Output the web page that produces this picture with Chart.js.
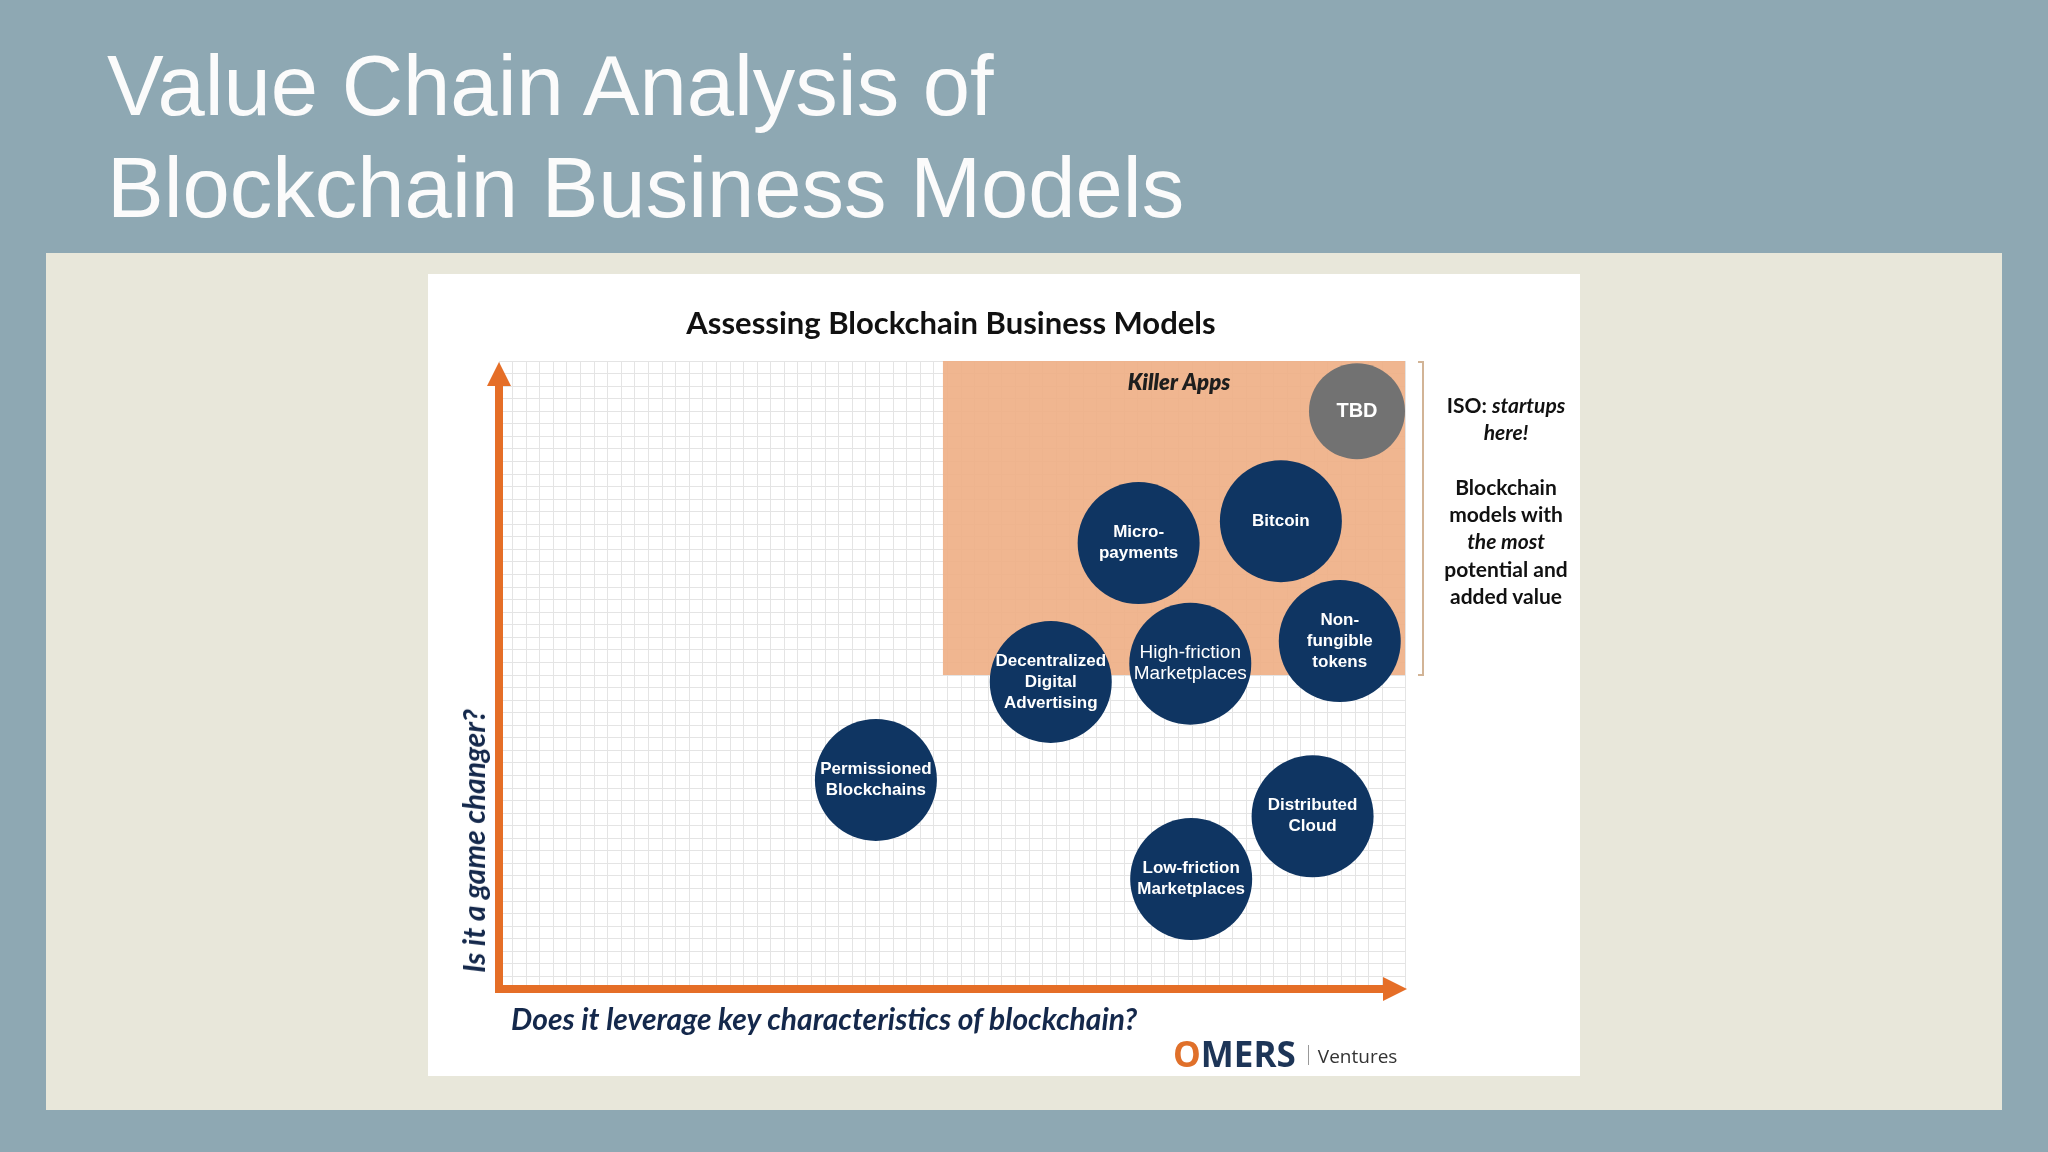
<!DOCTYPE html>
<html>
<head>
<meta charset="utf-8">
<script src="https://cdn.jsdelivr.net/npm/chart.js@4.4.1/dist/chart.umd.min.js"></script>
<style>
  html, body { margin: 0; padding: 0; }
  body {
    width: 2048px; height: 1152px; position: relative; overflow: hidden;
    background: #8ea8b3;
    font-family: 'Liberation Sans', Arial, sans-serif;
  }
  .slide-title {
    position: absolute; left: 107px; top: 35px;
    color: #fbfbfb; font-size: 85px; line-height: 102px;
  }
  .panel {
    position: absolute; left: 46px; top: 253px; width: 1956px; height: 857px;
    background: #e8e7da;
  }
  .card {
    position: absolute; left: 428px; top: 274px; width: 1152px; height: 802px;
    background: #ffffff;
  }
  .card canvas { position: absolute; left: 0; top: 0; }
  .chart-title {
    position: absolute; left: 173px; width: 700px; top: 29px; text-align: center;
    font-family: Lato, sans-serif; font-weight: 700; font-size: 31px; color: #111;
  }
  .x-label {
    position: absolute; left: 83px; top: 726px;
    font-family: Lato, sans-serif; font-weight: 700; font-style: italic;
    font-size: 30px; color: #14284b; white-space: nowrap;
  }
  .y-label {
    position: absolute; left: 45px; top: 567px;
    transform: translate(-50%, -50%) rotate(-90deg);
    font-family: Lato, sans-serif; font-weight: 700; font-style: italic;
    font-size: 30px; color: #14284b; white-space: nowrap;
  }
  .note {
    position: absolute; left: 978px; width: 200px; top: 117px; text-align: center;
    font-family: Lato, sans-serif; font-weight: 700; font-size: 21px;
    line-height: 27.3px; color: #111;
  }
  .logo {
    position: absolute; left: 745px; top: 756px; white-space: nowrap;
    font-family: 'Open Sans', sans-serif; color: #1d3557;
  }
  .logo .brand { font-size: 35px; font-weight: 700; }
  .logo .brand .o { color: #e0702a; }
  .logo .sep {
    display: inline-block; width: 1px; height: 20px; background: #999;
    margin: 0 9px 0 12px; vertical-align: 2px;
  }
  .logo .sub { font-size: 19px; color: #333; vertical-align: 4px; }
</style>
</head>
<body>
<div class="slide-title">Value Chain Analysis of<br>Blockchain Business Models</div>
<div class="panel"></div>
<div class="card">
  <canvas id="chart" width="1152" height="802"></canvas>
  <div class="chart-title">Assessing Blockchain Business Models</div>
  <div class="y-label">Is it a game changer?</div>
  <div class="x-label">Does it leverage key characteristics of blockchain?</div>
  <div class="note">ISO: <i>startups</i><br><i>here!</i><br><br>Blockchain<br>models with<br><i>the most</i><br>potential and<br>added value</div>
  <div class="logo"><span class="brand"><span class="o">O</span>MERS</span><span class="sep"></span><span class="sub">Ventures</span></div>
</div>

<script>
// business models (x = leverages blockchain, y = game changer), 0-100
const models = [
  'Permissioned\nBlockchains',
  'Decentralized\nDigital\nAdvertising',
  'High-friction\nMarketplaces',
  'Micro-\npayments',
  'Bitcoin',
  'Non-\nfungible\ntokens',
  'Distributed\nCloud',
  'Low-friction\nMarketplaces'
];
const leverage = [41.6, 60.9, 76.3, 70.6, 86.3, 92.8, 89.8, 76.4];
const gameChanger = [33.3, 48.9, 51.8, 71.0, 74.5, 55.4, 27.5, 17.5];

const tbdLabel = ['TBD'];
const tbdLeverage = [94.7];
const tbdGameChanger = [92.0];

// killer apps zone
const zoneX = [49, 100];
const zoneY = [50, 100];
const zoneLabel = 'Killer Apps';

const NAVY = '#0f3562';
const ORANGE = '#e56e27';

const toPoints = (xs, ys) => xs.map((x, i) => ({ x: x, y: ys[i] }));

const zonePlugin = {
  id: 'zone',
  beforeDatasetsDraw(chart) {
    const { ctx, scales: { x, y }, chartArea } = chart;
    const left = x.getPixelForValue(zoneX[0]);
    const right = x.getPixelForValue(zoneX[1]);
    const top = y.getPixelForValue(zoneY[1]);
    const bottom = y.getPixelForValue(zoneY[0]);
    ctx.save();
    ctx.fillStyle = 'rgba(238,174,132,0.9)';
    ctx.fillRect(left, top, right - left, bottom - top);

    ctx.fillStyle = '#1e1e1e';
    ctx.font = 'italic 800 22px Lato, sans-serif';
    ctx.textAlign = 'center';
    ctx.textBaseline = 'middle';
    ctx.fillText(zoneLabel, (left + right) / 2 + 5, top + 22);

    // bracket on the right of the zone
    const bx = right + 18;
    ctx.strokeStyle = '#d2b496';
    ctx.lineWidth = 2;
    ctx.beginPath();
    ctx.moveTo(bx - 5, top + 1);
    ctx.lineTo(bx, top + 1);
    ctx.lineTo(bx, bottom);
    ctx.lineTo(bx - 5, bottom);
    ctx.stroke();

    // axes arrows
    const ox = chartArea.left, oy = chartArea.bottom;
    ctx.fillStyle = ORANGE;
    ctx.fillRect(ox - 4, chartArea.top + 22, 8, oy - chartArea.top - 18);
    ctx.beginPath();
    ctx.moveTo(ox, chartArea.top + 1);
    ctx.lineTo(ox - 12, chartArea.top + 25);
    ctx.lineTo(ox + 12, chartArea.top + 25);
    ctx.closePath();
    ctx.fill();

    ctx.fillRect(ox - 4, oy - 4, chartArea.right - ox - 18, 8);
    ctx.beginPath();
    ctx.moveTo(chartArea.right + 2, oy);
    ctx.lineTo(chartArea.right - 22, oy - 12);
    ctx.lineTo(chartArea.right - 22, oy + 12);
    ctx.closePath();
    ctx.fill();
    ctx.restore();
  }
};

const labelPlugin = {
  id: 'bubbleLabels',
  afterDatasetsDraw(chart) {
    const { ctx } = chart;
    chart.data.datasets.forEach((ds, di) => {
      const meta = chart.getDatasetMeta(di);
      meta.data.forEach((pt, i) => {
        const lines = ds.names[i].split('\n');
        const lh = ds.lineGap;
        ctx.save();
        ctx.fillStyle = '#ffffff';
        ctx.font = (ds.regular && ds.regular.includes(i))
          ? '400 19px "Liberation Sans", Arial, sans-serif'
          : ds.labelFont;
        ctx.textAlign = 'center';
        ctx.textBaseline = 'middle';
        lines.forEach((line, k) => {
          ctx.fillText(line, pt.x, pt.y + (k - (lines.length - 1) / 2) * lh);
        });
        ctx.restore();
      });
    });
  }
};

new Chart(document.getElementById('chart'), {
  type: 'bubble',
  data: {
    datasets: [
      {
        label: 'Blockchain business models',
        names: models,
        data: toPoints(leverage, gameChanger),
        backgroundColor: NAVY,
        borderWidth: 0,
        radius: 61,
        hoverRadius: 0,
        labelFont: '700 17px "Liberation Sans", Arial, sans-serif',
        lineGap: 21,
        regular: [2]
      },
      {
        label: 'TBD',
        names: tbdLabel,
        data: toPoints(tbdLeverage, tbdGameChanger),
        backgroundColor: '#727272',
        borderWidth: 0,
        radius: 48,
        hoverRadius: 0,
        labelFont: '700 20px "Liberation Sans", Arial, sans-serif',
        lineGap: 22
      }
    ]
  },
  options: {
    responsive: false,
    animation: false,
    events: [],
    devicePixelRatio: 1,
    layout: {
      padding: { left: 71, right: 175, top: 87, bottom: 87 }
    },
    plugins: {
      legend: { display: false },
      title: { display: false },
      tooltip: { enabled: false }
    },
    scales: {
      x: {
        type: 'linear',
        min: 0,
        max: 100,
        ticks: { display: false, stepSize: 1.5 },
        grid: { color: '#e4e4e4', drawTicks: false },
        border: { display: false }
      },
      y: {
        type: 'linear',
        min: 0,
        max: 100,
        ticks: { display: false, stepSize: 2 },
        grid: { color: '#e4e4e4', drawTicks: false },
        border: { display: false }
      }
    }
  },
  plugins: [zonePlugin, labelPlugin]
});
</script>
</body>
</html>
